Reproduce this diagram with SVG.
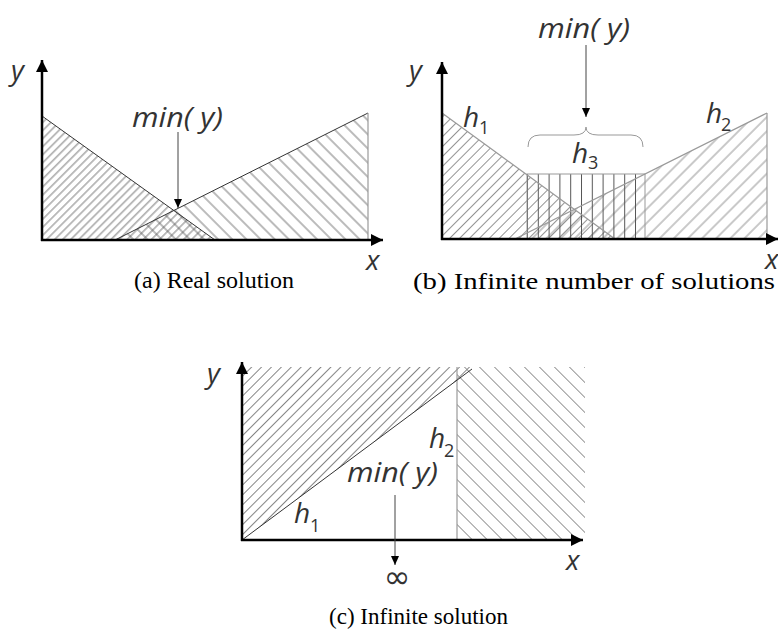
<svg xmlns="http://www.w3.org/2000/svg" width="778" height="634" viewBox="0 0 778 634">
<style>
.axis{stroke:#000;stroke-width:2.5;fill:none}
.edge{stroke:#333;stroke-width:1;fill:none}
.edgeL{stroke:#999;stroke-width:1.2;fill:none}
.math{font-family:"Open Sans","DejaVu Sans",sans-serif;font-style:italic;font-weight:400;fill:#333}
.sub{font-family:"Open Sans","DejaVu Sans",sans-serif;font-style:normal;font-weight:400;fill:#333;font-size:18px}
.cap{font-family:"Liberation Serif","DejaVu Serif",serif;font-size:23px;fill:#000}
.ann{stroke:#444;stroke-width:1;fill:none}
</style>
<defs>
<marker id="axArrow" markerUnits="userSpaceOnUse" markerWidth="14" markerHeight="12" refX="12" refY="6" orient="auto">
<path d="M0,0 L12,6 L0,12 Z" fill="#000"/>
</marker>
<marker id="annArrow" markerUnits="userSpaceOnUse" markerWidth="10" markerHeight="8" refX="9" refY="4" orient="auto">
<path d="M0,0 L9,4 L0,8 Z" fill="#000"/>
</marker>
<pattern id="hA1" width="5.7" height="10" patternUnits="userSpaceOnUse" patternTransform="rotate(45)">
<line x1="2.8" y1="0" x2="2.8" y2="10" stroke="#555" stroke-width="0.8"/>
</pattern>
<pattern id="hA2" width="10" height="10" patternUnits="userSpaceOnUse" patternTransform="rotate(-45)">
<line x1="5" y1="0" x2="5" y2="10" stroke="#555" stroke-width="0.8"/>
</pattern>
<pattern id="hB1" width="7" height="10" patternUnits="userSpaceOnUse" patternTransform="rotate(45)">
<line x1="3.5" y1="0" x2="3.5" y2="10" stroke="#777" stroke-width="0.8"/>
</pattern>
<pattern id="hB2" width="10" height="10" patternUnits="userSpaceOnUse" patternTransform="rotate(45)">
<line x1="5" y1="0" x2="5" y2="10" stroke="#777" stroke-width="0.8"/>
</pattern>
<pattern id="hB3" width="10.8" height="10" patternUnits="userSpaceOnUse" x="527">
<line x1="0.5" y1="0" x2="0.5" y2="10" stroke="#555" stroke-width="1"/>
</pattern>
<pattern id="hC1" width="7" height="10" patternUnits="userSpaceOnUse" patternTransform="rotate(45)">
<line x1="3.5" y1="0" x2="3.5" y2="10" stroke="#666" stroke-width="0.8"/>
</pattern>
<pattern id="hC2" width="10.6" height="10" patternUnits="userSpaceOnUse" patternTransform="rotate(-45)">
<line x1="5.3" y1="0" x2="5.3" y2="10" stroke="#888" stroke-width="0.9"/>
</pattern>
</defs>

<g id="panel-a">
<polygon points="42,116 215,240 42,240" fill="url(#hA1)"/>
<polygon points="115,240 368,113 368,240" fill="url(#hA2)"/>
<line class="edge" x1="42" y1="116" x2="215" y2="240"/>
<line class="edge" x1="115" y1="240" x2="368" y2="113"/>
<line class="edgeL" x1="368" y1="113" x2="368" y2="240"/>
<line class="axis" x1="42" y1="241" x2="42" y2="60" marker-end="url(#axArrow)"/>
<line class="axis" x1="41" y1="240" x2="383" y2="240" marker-end="url(#axArrow)"/>
<text class="math" x="11" y="80" font-size="28">y</text>
<text class="math" x="366" y="270" font-size="28">x</text>
<text class="math" x="132" y="127" font-size="28" textLength="91" lengthAdjust="spacingAndGlyphs">min( y)</text>
<line class="ann" x1="178" y1="132" x2="178" y2="208" marker-end="url(#annArrow)"/>
<text class="cap" x="134" y="288" textLength="160" lengthAdjust="spacingAndGlyphs">(a) Real solution</text>
</g>

<g id="panel-b">
<polygon points="442,113 615,239 442,239" fill="url(#hB1)"/>
<polygon points="515,239 767,113 767,239" fill="url(#hB2)"/>
<rect x="527" y="174" width="118" height="65" fill="url(#hB3)"/>
<rect x="527" y="174" width="118" height="65" fill="none" stroke="#999" stroke-width="1"/>
<line class="edgeL" x1="442" y1="113" x2="615" y2="239"/>
<line class="edgeL" x1="515" y1="239" x2="767" y2="113"/>
<line class="edgeL" x1="767" y1="113" x2="767" y2="239"/>
<line class="axis" x1="442" y1="240" x2="442" y2="62" marker-end="url(#axArrow)"/>
<line class="axis" x1="441" y1="239" x2="778" y2="239" marker-end="url(#axArrow)"/>
<text class="math" x="409" y="80" font-size="28">y</text>
<text class="math" x="765" y="269" font-size="28">x</text>
<text class="math" x="538" y="38" font-size="28" textLength="92" lengthAdjust="spacingAndGlyphs">min( y)</text>
<line class="ann" x1="586" y1="45" x2="586" y2="117" marker-end="url(#annArrow)"/>
<path d="M528,147 Q528,135 540,135 L574,135 Q586,135 586,127 Q586,135 598,135 L631,135 Q643,135 643,147" fill="none" stroke="#999" stroke-width="1"/>
<text class="math" x="463" y="127" font-size="28">h<tspan class="sub" x="479" y="134">1</tspan></text>
<text class="math" x="706" y="123" font-size="28">h<tspan class="sub" x="721" y="131">2</tspan></text>
<text class="math" x="572" y="163" font-size="28">h<tspan class="sub" x="588" y="169">3</tspan></text>
<text class="cap" x="413" y="289" textLength="362" lengthAdjust="spacingAndGlyphs">(b) Infinite number of solutions</text>
</g>

<g id="panel-c">
<polygon points="242,540 242,367 475,367" fill="url(#hC1)"/>
<rect x="457" y="367" width="128" height="173" fill="url(#hC2)"/>
<line class="edgeL" x1="457" y1="367" x2="457" y2="540" stroke-width="1.5"/>
<line class="edge" x1="242" y1="540" x2="472" y2="369"/>
<line class="axis" x1="242" y1="541" x2="242" y2="362" marker-end="url(#axArrow)"/>
<line class="axis" x1="241" y1="540" x2="583" y2="540" marker-end="url(#axArrow)"/>
<text class="math" x="207" y="383" font-size="28">y</text>
<text class="math" x="566" y="570" font-size="28">x</text>
<text class="math" x="429" y="448" font-size="28">h<tspan class="sub" x="444" y="457">2</tspan></text>
<text class="math" x="347" y="482" font-size="28" textLength="91" lengthAdjust="spacingAndGlyphs">min( y)</text>
<text class="math" x="294" y="523" font-size="28">h<tspan class="sub" x="310" y="532">1</tspan></text>
<line class="ann" x1="395" y1="495" x2="395" y2="565" marker-end="url(#annArrow)"/>
<text x="397" y="588" text-anchor="middle" font-family="DejaVu Sans, sans-serif" font-size="32" fill="#333">∞</text>
<text class="cap" x="329" y="624" textLength="179" lengthAdjust="spacingAndGlyphs">(c) Infinite solution</text>
</g>
</svg>
